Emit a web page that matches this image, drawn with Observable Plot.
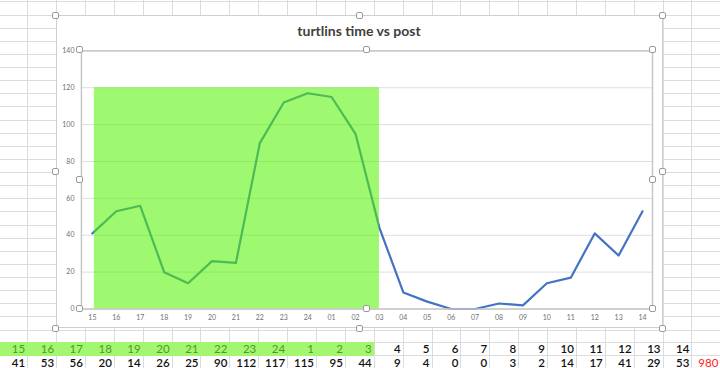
<!DOCTYPE html>
<html>
<head>
<meta charset="utf-8">
<script src="https://cdn.jsdelivr.net/npm/d3@7"></script>
<script src="https://cdn.jsdelivr.net/npm/@observablehq/plot@0.6"></script>
<style>
  html, body { margin: 0; padding: 0; background: #fff; }
  #page { position: relative; width: 720px; height: 368px; overflow: hidden; background: #fff; font-family: Lato, "Liberation Sans", sans-serif; }
  .vl { position: absolute; top: 0; width: 1px; height: 368px; background: #dcdcdc; }
  .hl { position: absolute; left: 0; width: 720px; height: 1px; background: #dcdcdc; }
  #chartbox { position: absolute; left: 55.5px; top: 15px; width: 607px; height: 313px; background: #fff; border: 1px solid #cfcfcf; box-sizing: border-box; }
  #chartbox svg { position: absolute; left: 0; top: 0; }
  #title { position: absolute; left: 0; width: 100%; top: 6px; text-align: center; font: 700 14px Lato, sans-serif; color: #404040; }
  .handle { position: absolute; width: 5px; height: 5px; margin: -3.5px 0 0 -3.5px; border: 1px solid #9a9a9a; border-radius: 2px; background: #fff; }
  .cell { position: absolute; height: 13px; line-height: 14px; text-align: right; box-sizing: border-box; padding-right: 2.5px; font-size: 11.5px; }
</style>
</head>
<body>
<div id="page"></div>
<script>
// ---- data ----
const title = "turtlins time vs post";
const hourLabels = ["15","16","17","18","19","20","21","22","23","24","01","02","03","04","05","06","07","08","09","10","11","12","13","14"];
const posts = [41,53,56,20,14,26,25,90,112,117,115,95,44,9,4,0,0,3,2,14,17,41,29,53];
const tableHours = ["15","16","17","18","19","20","21","22","23","24","1","2","3","4","5","6","7","8","9","10","11","12","13","14"];
const total = 980;
const yTicks = [0,20,40,60,80,100,120,140];
const highlight = [{from: "15", to: "03", low: 0, high: 120}];
const highlightedCells = 13; // hours 15 .. 3 shaded in the sheet

const page = document.getElementById("page");

// ---- spreadsheet grid (decoration) ----
const colW = 28.88, col0 = 27.7;
for (let k = 0; k <= 24; k++) {
  const d = document.createElement("div");
  d.className = "vl"; d.style.left = (col0 + k * colW - 0.5) + "px";
  page.appendChild(d);
}
const rowYs = [];
for (let k = 0; k <= 25; k++) rowYs.push(1.9 + 13.125 * k);
rowYs.push(342, 355.5);
for (const y of rowYs) {
  const d = document.createElement("div");
  d.className = "hl"; d.style.top = (y - 0.5) + "px";
  page.appendChild(d);
}

// ---- table rows ----
function cellAt(i, top, text, opts = {}) {
  const c = document.createElement("div");
  c.className = "cell";
  const left = col0 + (i - 1) * colW;
  c.style.left = left + "px";
  c.style.width = colW + "px";
  c.style.top = top + "px";
  c.textContent = text;
  if (opts.bg) c.style.background = opts.bg;
  if (opts.color) c.style.color = opts.color;
  if (opts.weight) c.style.fontWeight = opts.weight;
  page.appendChild(c);
}
const band = document.createElement("div");
band.style.cssText = `position:absolute;left:0;top:342px;height:13.5px;width:${col0 + (highlightedCells - 1) * colW}px;background:#a3f66f;`;
page.appendChild(band);
tableHours.forEach((h, i) => cellAt(i, 342.3, h, {color: i < highlightedCells ? "#4c9a2a" : "#111", weight: i < highlightedCells ? 400 : 600}));
posts.forEach((v, i) => cellAt(i, 355.5, String(v), {color: "#111", weight: 600}));
cellAt(24, 355.5, String(total), {color: "#ff1a1a", weight: 400});

// ---- chart box ----
const box = document.createElement("div");
box.id = "chartbox";
page.appendChild(box);
const t = document.createElement("div");
t.id = "title"; t.textContent = title;
box.appendChild(t);

const data = hourLabels.map((h, i) => ({hour: h, posts: posts[i]}));

const chart = Plot.plot({
  width: 607, height: 313,
  marginLeft: 24, marginRight: 10, marginTop: 34.5, marginBottom: 19.5,
  style: {fontFamily: "Lato, sans-serif", fontSize: "7px", color: "#707070", background: "transparent", overflow: "visible"},
  x: {type: "point", domain: hourLabels, padding: 0.25, label: null, tickSize: 0, tickPadding: 6},
  y: {domain: [0, 140], ticks: yTicks, label: null, tickSize: 0, tickPadding: 7},
  marks: [
    Plot.ruleY(yTicks, {stroke: "#dedede", strokeWidth: 1}),
    Plot.line(data, {x: "hour", y: "posts", stroke: "#4472C4", strokeWidth: 2.2}),
    Plot.rect(highlight, {x1: "from", x2: "to", y1: "low", y2: "high", fill: "rgb(82,245,0)", fillOpacity: 0.56, insetLeft: 2}),
    Plot.frame({stroke: "#c6c6c6", strokeWidth: 1.5})
  ]
});
box.appendChild(chart);

// ---- selection handles (decoration) ----
function handle(x, y) {
  const h = document.createElement("div");
  h.className = "handle"; h.style.left = x + "px"; h.style.top = y + "px";
  page.appendChild(h);
}
const bx0 = 55.7, bx1 = 662.5, by0 = 15.5, by1 = 328;
[[bx0,by0],[(bx0+bx1)/2,by0],[bx1,by0],[bx0,(by0+by1)/2],[bx1,(by0+by1)/2],[bx0,by1],[(bx0+bx1)/2,by1],[bx1,by1]].forEach(p => handle(...p));
const px0 = 55.5 + 24, px1 = 55.5 + 607 - 10, py0 = 15 + 34.5, py1 = 15 + 313 - 19.5;
[[px0,py0],[(px0+px1)/2,py0],[px1,py0],[px0,(py0+py1)/2],[px1,(py0+py1)/2],[px0,py1],[(px0+px1)/2,py1],[px1,py1]].forEach(p => handle(...p));
</script>
</body>
</html>
